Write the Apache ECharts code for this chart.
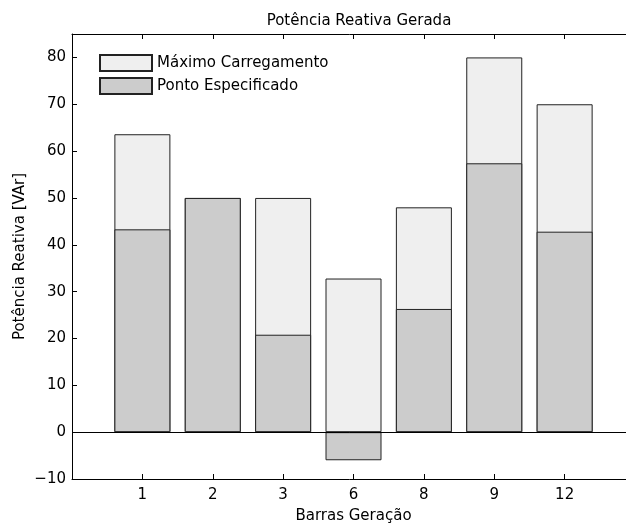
<!DOCTYPE html>
<html>
<head>
<meta charset="utf-8">
<script src="https://cdn.jsdelivr.net/npm/echarts@6/dist/echarts.min.js"></script>
<style>
html,body{margin:0;padding:0;background:#fff;}
#chart{width:626px;height:529px;}
</style>
</head>
<body>
<div id="chart"></div>
<script>
const categories = ['1', '2', '3', '6', '8', '9', '12'];
const maximoCarregamento = [63.6, 50, 50, 32.8, 48, 80, 70];
const pontoEspecificado = [43.3, 50, 20.8, -6, 26.3, 57.4, 42.8];
const yTicks = [-10, 0, 10, 20, 30, 40, 50, 60, 70, 80];

const FONT = '"DejaVu Sans", "Liberation Sans", Arial, sans-serif';
const FS = 15;
const toPairs = arr => arr.map((v, i) => [i + 1, v]);
const fmtY = v => (yTicks.indexOf(v) >= 0 ? String(v).replace('-', '\u2212') : '');

const chart = echarts.init(document.getElementById('chart'), null, {renderer: 'canvas'});
const option = {
  animation: false,
  backgroundColor: '#fff',
  textStyle: {fontFamily: FONT},
  title: {
    text: 'Potência Reativa Gerada',
    left: 354, textAlign: 'center', top: 9,
    textStyle: {fontFamily: FONT, fontSize: FS, fontWeight: 'normal', color: '#000'}
  },
  legend: {
    orient: 'vertical', left: 94, top: 49,
    itemWidth: 52, itemHeight: 16, itemGap: 5,
    icon: 'rect',
    textStyle: {fontFamily: FONT, fontSize: FS, color: '#000'},
    data: ['Máximo Carregamento', 'Ponto Especificado']
  },
  grid: {
    left: 72, top: 34, width: 563, bottom: 50,
    outerBoundsMode: 'none',
    show: false
  },
  xAxis: [{
    type: 'value', min: 0, max: 8, interval: 1, position: 'bottom',
    name: 'Barras Geração', nameLocation: 'middle', nameGap: 30,
    nameMoveOverlap: false,
    nameTextStyle: {fontFamily: FONT, fontSize: FS, color: '#000'},
    axisLine: {show: true, onZero: false, lineStyle: {color: '#000', width: 1}},
    axisTick: {show: true, inside: true, length: 5, lineStyle: {color: '#000'}},
    axisLabel: {fontFamily: FONT, fontSize: FS, color: '#000', margin: 9,
      formatter: v => categories[v - 1] || ''},
    splitLine: {show: false}
  }, {
    type: 'value', min: 0, max: 8, interval: 1, position: 'top',
    axisLine: {show: true, onZero: false, lineStyle: {color: '#000', width: 1}},
    axisTick: {show: true, inside: true, length: 5, lineStyle: {color: '#000'}},
    axisLabel: {show: false},
    splitLine: {show: false}
  }],
  yAxis: {
    type: 'value', min: -10, max: 85, interval: 10,
    name: 'Potência Reativa [VAr]', nameLocation: 'middle', nameGap: 44,
    nameMoveOverlap: false,
    nameTextStyle: {fontFamily: FONT, fontSize: FS, color: '#000'},
    axisLine: {show: true, onZero: false, lineStyle: {color: '#000', width: 1}},
    axisTick: {show: true, inside: true, length: 5, lineStyle: {color: '#000'}},
    axisLabel: {fontFamily: FONT, fontSize: FS, color: '#000', margin: 6,
      showMaxLabel: false, formatter: fmtY},
    splitLine: {show: false}
  },
  series: [{
    name: 'Máximo Carregamento', type: 'bar',
    data: toPairs(maximoCarregamento),
    barWidth: 56, barGap: '-100%',
    itemStyle: {color: '#efefef', borderColor: '#222', borderWidth: 1},
    markLine: {
      silent: true, symbol: 'none', label: {show: false},
      lineStyle: {color: '#000', width: 1, type: 'solid'},
      data: [{yAxis: 0}]
    }
  }, {
    name: 'Ponto Especificado', type: 'bar',
    data: toPairs(pontoEspecificado),
    barWidth: 56, barGap: '-100%',
    itemStyle: {color: '#cccccc', borderColor: '#222', borderWidth: 1}
  }]
};
chart.setOption(option);
</script>
</body>
</html>
